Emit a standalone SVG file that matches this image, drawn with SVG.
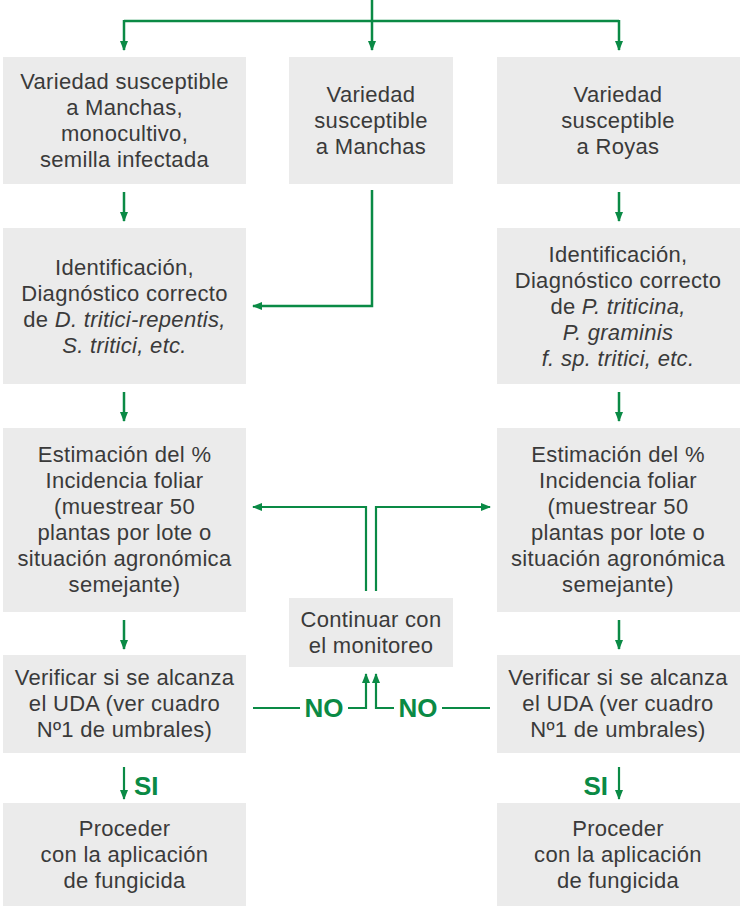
<svg xmlns="http://www.w3.org/2000/svg" width="740" height="908" viewBox="0 0 740 908">
<style>
.box{fill:#ebebeb}
.t{font-family:"Liberation Sans",Arial,sans-serif;font-size:22px;fill:#3a3a3a;text-anchor:middle;letter-spacing:0.3px}
.i{font-style:italic}
.c{fill:none;stroke:#0a8a45;stroke-width:2.5}
.lbl{font-family:"Liberation Sans",Arial,sans-serif;font-weight:bold;fill:#0a8a45;font-size:26px}
</style>
<defs>
<marker id="ah" markerUnits="userSpaceOnUse" markerWidth="10" markerHeight="10" viewBox="0 0 10 10" refX="9" refY="5" orient="auto">
<path d="M0,1 L10,5 L0,9 Z" fill="#0a8a45"/>
</marker>
</defs>
<rect width="740" height="908" fill="#fff"/>
<g id="connectors">
<path class="c" d="M372,0 V21"/>
<path class="c" d="M124,21 H619"/>
<path class="c" d="M124,20 V50" marker-end="url(#ah)"/>
<path class="c" d="M372,20 V50" marker-end="url(#ah)"/>
<path class="c" d="M619,20 V50" marker-end="url(#ah)"/>
<path class="c" d="M124,192 V221" marker-end="url(#ah)"/>
<path class="c" d="M619,192 V221" marker-end="url(#ah)"/>
<path class="c" d="M372,190 V306 H253" marker-end="url(#ah)"/>
<path class="c" d="M124,392 V421" marker-end="url(#ah)"/>
<path class="c" d="M619,392 V421" marker-end="url(#ah)"/>
<path class="c" d="M124,620 V649" marker-end="url(#ah)"/>
<path class="c" d="M619,620 V649" marker-end="url(#ah)"/>
<path class="c" style="stroke-width:2.2" d="M366,591 V507 H253" marker-end="url(#ah)"/>
<path class="c" style="stroke-width:2.2" d="M376,591 V507 H490" marker-end="url(#ah)"/>
<path class="c" style="stroke-width:2.2" d="M253,708 H300"/>
<path class="c" style="stroke-width:2.2" d="M348,708 H366 V674" marker-end="url(#ah)"/>
<path class="c" style="stroke-width:2.2" d="M490,708 H442"/>
<path class="c" style="stroke-width:2.2" d="M394,708 H376 V674" marker-end="url(#ah)"/>
<path class="c" style="stroke-width:2.2" d="M124,767 V799" marker-end="url(#ah)"/>
<path class="c" style="stroke-width:2.2" d="M619,767 V799" marker-end="url(#ah)"/>
<text class="lbl" x="324" y="717" text-anchor="middle">NO</text>
<text class="lbl" x="418" y="717" text-anchor="middle">NO</text>
<text class="lbl" x="134" y="795">SI</text>
<text class="lbl" x="608" y="795" text-anchor="end">SI</text>
</g>
<g id="n1">
<rect class="box" x="3" y="57" width="243" height="127"/>
<text class="t" x="124.5" y="89">Variedad susceptible</text>
<text class="t" x="124.5" y="115">a Manchas,</text>
<text class="t" x="124.5" y="141">monocultivo,</text>
<text class="t" x="124.5" y="167">semilla infectada</text>
</g>
<g id="n2">
<rect class="box" x="289" y="57" width="164" height="127"/>
<text class="t" x="371" y="102">Variedad</text>
<text class="t" x="371" y="128">susceptible</text>
<text class="t" x="371" y="154">a Manchas</text>
</g>
<g id="n3">
<rect class="box" x="497" y="57" width="243" height="127"/>
<text class="t" x="618" y="102">Variedad</text>
<text class="t" x="618" y="128">susceptible</text>
<text class="t" x="618" y="154">a Royas</text>
</g>
<g id="n4">
<rect class="box" x="3" y="228" width="243" height="156"/>
<text class="t" x="124.5" y="275">Identificación,</text>
<text class="t" x="124.5" y="301">Diagnóstico correcto</text>
<text class="t" x="124.5" y="327">de <tspan class="i">D. tritici-repentis,</tspan></text>
<text class="t i" x="124.5" y="353">S. tritici, etc.</text>
</g>
<g id="n5">
<rect class="box" x="497" y="228" width="243" height="156"/>
<text class="t" x="618" y="262">Identificación,</text>
<text class="t" x="618" y="288">Diagnóstico correcto</text>
<text class="t" x="618" y="314">de <tspan class="i">P. triticina,</tspan></text>
<text class="t i" x="618" y="340">P. graminis</text>
<text class="t i" x="618" y="366">f. sp. tritici, etc.</text>
</g>
<g id="n6">
<rect class="box" x="3" y="428" width="243" height="184"/>
<text class="t" x="124.5" y="462">Estimación del %</text>
<text class="t" x="124.5" y="488">Incidencia foliar</text>
<text class="t" x="124.5" y="514">(muestrear 50</text>
<text class="t" x="124.5" y="540">plantas por lote o</text>
<text class="t" x="124.5" y="566">situación agronómica</text>
<text class="t" x="124.5" y="592">semejante)</text>
</g>
<g id="n7">
<rect class="box" x="497" y="428" width="243" height="184"/>
<text class="t" x="618" y="462">Estimación del %</text>
<text class="t" x="618" y="488">Incidencia foliar</text>
<text class="t" x="618" y="514">(muestrear 50</text>
<text class="t" x="618" y="540">plantas por lote o</text>
<text class="t" x="618" y="566">situación agronómica</text>
<text class="t" x="618" y="592">semejante)</text>
</g>
<g id="n8">
<rect class="box" x="289" y="598" width="164" height="69"/>
<text class="t" x="371" y="627">Continuar con</text>
<text class="t" x="371" y="653">el monitoreo</text>
</g>
<g id="n9">
<rect class="box" x="3" y="655" width="243" height="98"/>
<text class="t" x="124.5" y="685">Verificar si se alcanza</text>
<text class="t" x="124.5" y="711">el UDA (ver cuadro</text>
<text class="t" x="124.5" y="737">Nº1 de umbrales)</text>
</g>
<g id="n10">
<rect class="box" x="497" y="655" width="243" height="98"/>
<text class="t" x="618" y="685">Verificar si se alcanza</text>
<text class="t" x="618" y="711">el UDA (ver cuadro</text>
<text class="t" x="618" y="737">Nº1 de umbrales)</text>
</g>
<g id="n11">
<rect class="box" x="3" y="803" width="243" height="103"/>
<text class="t" x="124.5" y="836">Proceder</text>
<text class="t" x="124.5" y="862">con la aplicación</text>
<text class="t" x="124.5" y="888">de fungicida</text>
</g>
<g id="n12">
<rect class="box" x="497" y="803" width="243" height="103"/>
<text class="t" x="618" y="836">Proceder</text>
<text class="t" x="618" y="862">con la aplicación</text>
<text class="t" x="618" y="888">de fungicida</text>
</g>
</svg>
